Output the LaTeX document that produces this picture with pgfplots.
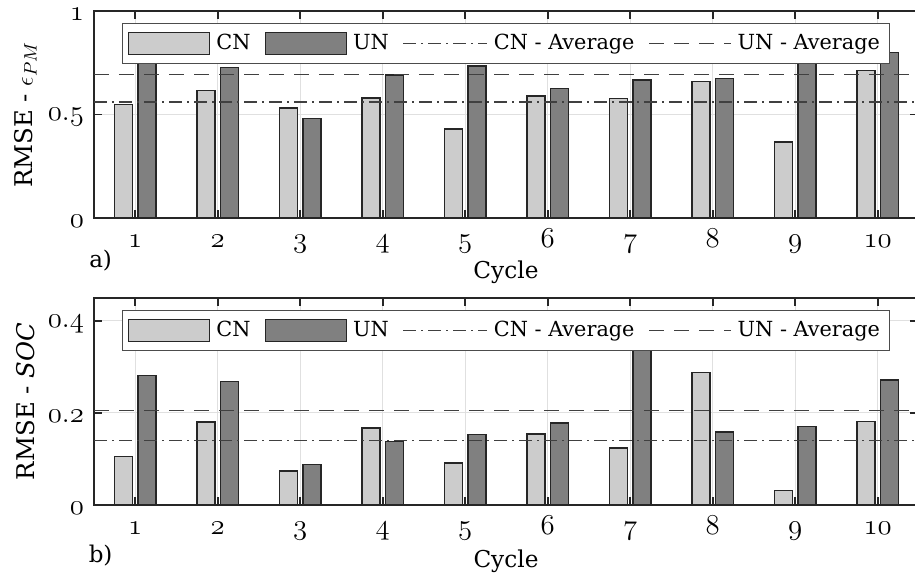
\documentclass[border=0pt]{standalone}
\usepackage{pgfplots}
\pgfplotsset{compat=1.18}
\usepackage{fontspec}
\setmainfont{DejaVu Serif}
\newcommand\osf[1]{{\usefont{OML}{cmm}{m}{it}\fontsize{14}{16}\selectfont#1}}
\definecolor{cnfill}{RGB}{204,204,204}
\definecolor{unfill}{RGB}{128,128,128}
\definecolor{axcol}{RGB}{38,38,38}
\definecolor{avgcol}{RGB}{64,64,64}

\pgfplotsset{
  myaxis/.style={
    scale only axis,
    width=412pt, height=103.5pt,
    xmin=0.5, xmax=10.488, ymin=0,
    xtick={1,2,3,4,5,6,7,8,9,10},
    xticklabels={\osf{1},\osf{2},\osf{3},\osf{4},\osf{5},\osf{6},\osf{7},\osf{8},\osf{9},\osf{10}},
    xticklabel style={anchor=base, yshift=-15pt},
    yticklabel style={xshift=-1.5pt, yshift=-1.5pt, inner ysep=0pt},
    axis line style={axcol, line width=0.9pt},
    tick style={axcol, line width=0.9pt},
    major tick length=4pt,
    tick align=inside,
    grid=major,
    major grid style={black!12, line width=0.5pt},
    every axis x label/.style={at={(axis description cs:0.5,0)}, anchor=center, yshift=-27pt, font=\fontsize{11.6}{14}\selectfont},
    every axis y label/.style={at={(axis description cs:-0.083,0.5)}, anchor=center, rotate=90, font=\fontsize{12.2}{14}\selectfont},
    legend columns=4,
    legend style={at={(axis description cs:0.5,0.943)}, anchor=north,
      draw=black!70, line width=0.5pt, fill=white,
      font=\fontsize{10.4}{12}\selectfont, inner xsep=3pt, inner ysep=3.5pt,
      /tikz/every odd column/.append style={column sep=1pt},
      /tikz/every even column/.append style={column sep=5pt}},
  },
  cnbar/.style={ybar, bar width=9pt, bar shift=-5.9pt, fill=cnfill, draw=axcol, line width=0.7pt,
    legend image code/.code={\draw[fill=cnfill, draw=axcol, line width=0.7pt] (0pt,-5.5pt) rectangle (40.5pt,5.5pt);}},
  unbar/.style={ybar, bar width=9pt, bar shift=5.9pt, fill=unfill, draw=axcol, line width=0.7pt,
    legend image code/.code={\draw[fill=unfill, draw=axcol, line width=0.7pt] (0pt,-5.5pt) rectangle (40.5pt,5.5pt);}},
  cnavg/.style={sharp plot, no marks, avgcol, line width=0.6pt, dash pattern=on 6.5pt off 2.5pt on 1pt off 2.5pt,
    legend image code/.code={\draw[avgcol, line width=0.6pt, dash pattern=on 6.5pt off 2.5pt on 1pt off 2.5pt] (0pt,0pt) -- (42pt,0pt);}},
  unavg/.style={sharp plot, no marks, avgcol, line width=0.6pt, dash pattern=on 7.5pt off 5pt,
    legend image code/.code={\draw[avgcol, line width=0.6pt, dash pattern=on 7.5pt off 5pt] (0pt,0pt) -- (41pt,0pt);}},
}

\begin{document}
\begin{tikzpicture}
\begin{axis}[myaxis, name=top, at={(47pt,179pt)}, anchor=south west,
  ymax=1, ytick={0,0.5,1}, yticklabels={\osf{0},\osf{0\char58 5},\osf{1}},
  xlabel={Cycle}, ylabel={RMSE - $\epsilon_{PM}$}]
\addplot[cnbar] coordinates {(1,0.549) (2,0.615) (3,0.531) (4,0.580) (5,0.430) (6,0.589) (7,0.578) (8,0.659) (9,0.367) (10,0.712)};
\addlegendentry{CN}
\addplot[unbar] coordinates {(1,0.78) (2,0.726) (3,0.482) (4,0.691) (5,0.734) (6,0.625) (7,0.667) (8,0.675) (9,0.757) (10,0.799)};
\addlegendentry{UN}
\addplot[cnavg] coordinates {(0.5,0.560) (10.488,0.560)};
\addlegendentry{CN - Average}
\addplot[unavg] coordinates {(0.5,0.692) (10.488,0.692)};
\addlegendentry{UN - Average}
\end{axis}
\node[font=\fontsize{11.5}{13}\selectfont] at ([xshift=3.3pt,yshift=-21.5pt]top.south west) {a)};

\begin{axis}[myaxis, name=bot, at={(47pt,35.5pt)}, anchor=south west,
  ymax=0.45, ytick={0,0.2,0.4}, yticklabels={\osf{0},\osf{0\char58 2},\osf{0\char58 4}},
  every axis x label/.style={at={(axis description cs:0.5,0)}, anchor=center, yshift=-28pt, font=\fontsize{11.6}{14}\selectfont},
  xlabel={Cycle}, ylabel={RMSE - \textit{SOC}}]
\addplot[cnbar] coordinates {(1,0.106) (2,0.180) (3,0.074) (4,0.167) (5,0.091) (6,0.154) (7,0.124) (8,0.288) (9,0.031) (10,0.182)};
\addlegendentry{CN}
\addplot[unbar] coordinates {(1,0.281) (2,0.269) (3,0.088) (4,0.138) (5,0.153) (6,0.178) (7,0.36) (8,0.159) (9,0.170) (10,0.272)};
\addlegendentry{UN}
\addplot[cnavg] coordinates {(0.5,0.140) (10.488,0.140)};
\addlegendentry{CN - Average}
\addplot[unavg] coordinates {(0.5,0.205) (10.488,0.205)};
\addlegendentry{UN - Average}
\end{axis}
\node[font=\fontsize{11.5}{13}\selectfont] at ([xshift=3.3pt,yshift=-25.5pt]bot.south west) {b)};

\pgfresetboundingbox
\useasboundingbox (0,0) rectangle (457.5pt,288pt);
\end{tikzpicture}
\end{document}
